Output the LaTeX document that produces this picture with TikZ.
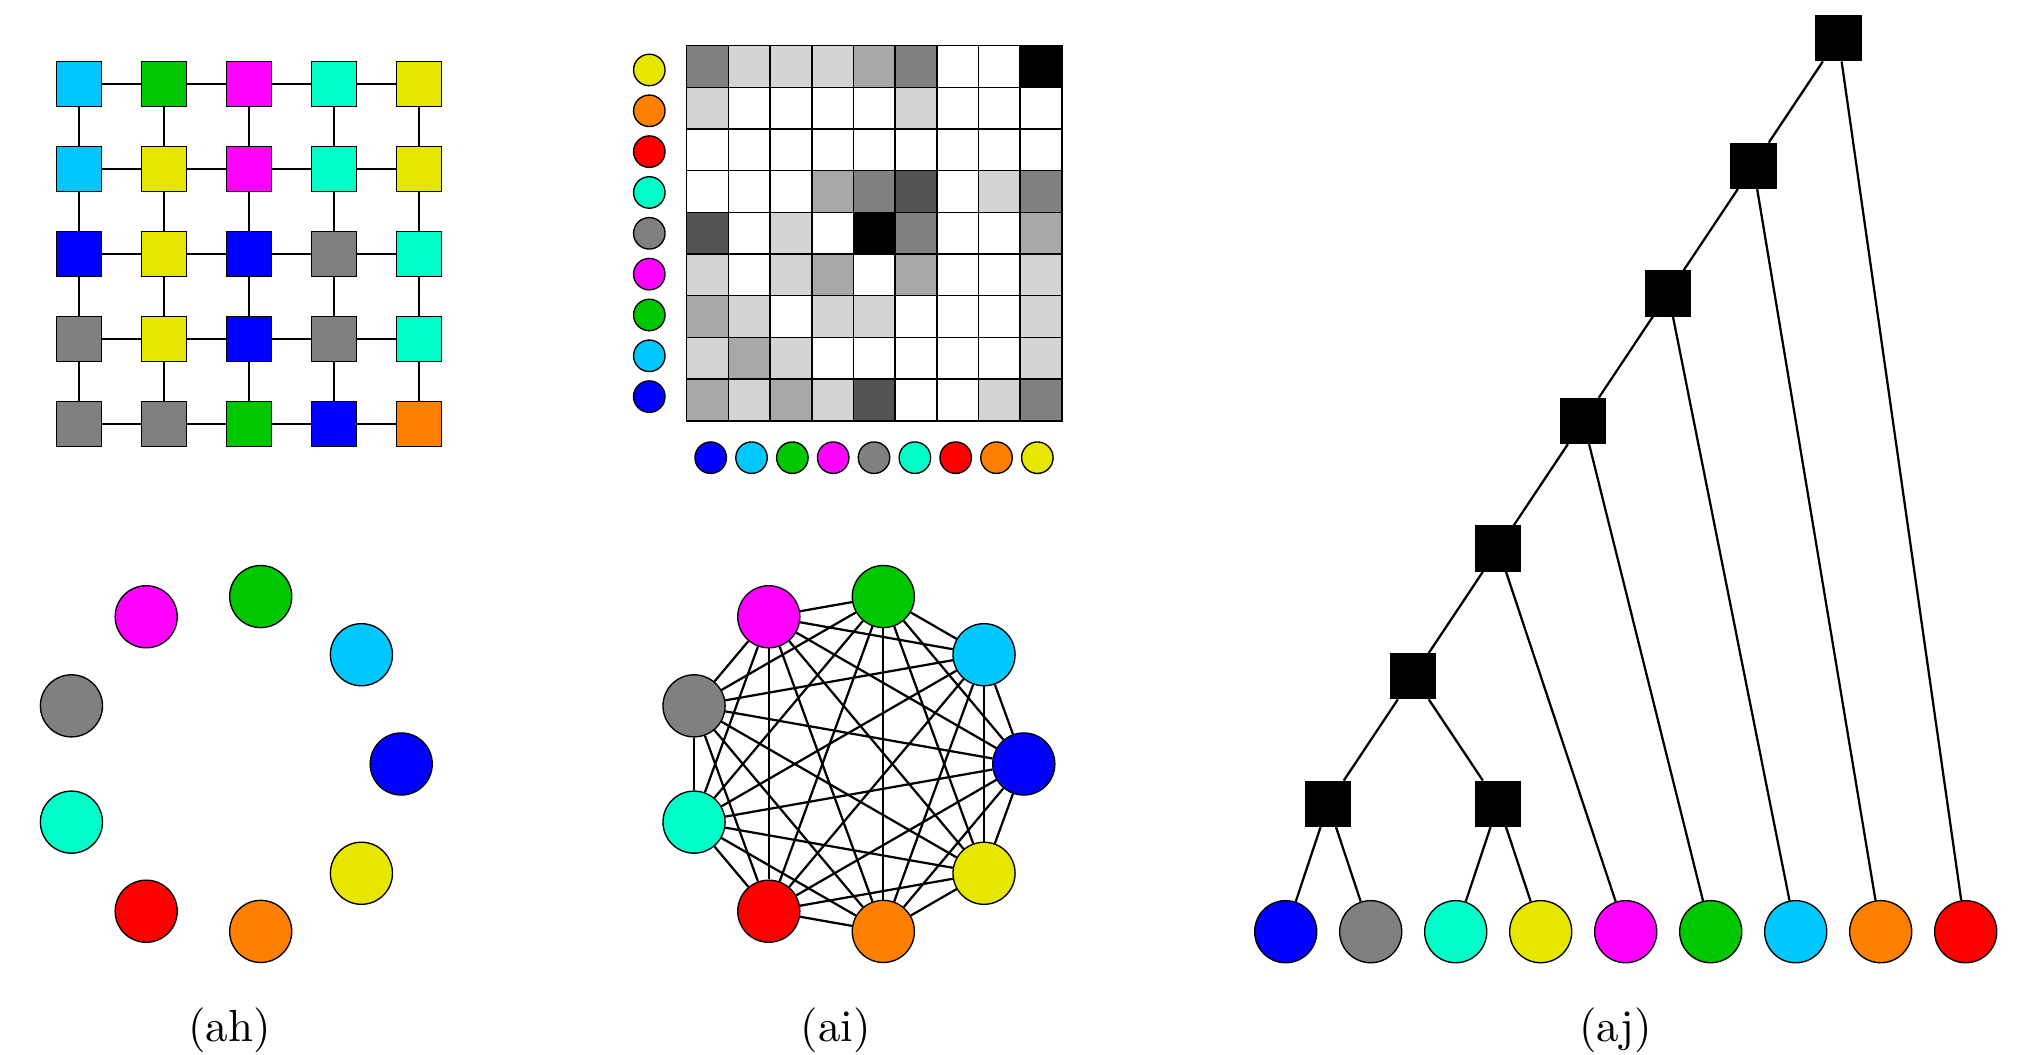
\documentclass[tikz,border=0pt]{standalone}
\definecolor{ccyan}{RGB}{0,200,255}
\definecolor{cgreen}{RGB}{0,200,0}
\definecolor{cmag}{RGB}{255,0,255}
\definecolor{caqua}{RGB}{0,255,200}
\definecolor{cyel}{RGB}{230,230,0}
\definecolor{cgray}{RGB}{128,128,128}
\definecolor{cblue}{RGB}{0,0,255}
\definecolor{cred}{RGB}{255,0,0}
\definecolor{corange}{RGB}{255,128,0}
\colorlet{shade0}{white}
\colorlet{shade1}{black!17}
\colorlet{shade2}{black!34}
\colorlet{shade3}{black!50}
\colorlet{shade4}{black!67}
\colorlet{shade5}{black}

\begin{document}
\begin{tikzpicture}
  [x=0.2222pt,y=-0.2222pt,line width=0.5pt,
   sq/.style={rectangle,draw,line width=0.3pt,minimum size=10pt,inner sep=0pt},
   dot/.style={circle,draw,line width=0.3pt,minimum size=13.8pt,inner sep=0pt},
   key/.style={circle,draw,line width=0.3pt,minimum size=7pt,inner sep=0pt}]
  \useasboundingbox (0,0) rectangle (2017,1055);
  % (ah) grid
  \foreach \row [count=\i] in {{ccyan,cgreen,cmag,caqua,cyel},{ccyan,cyel,cmag,caqua,cyel},
      {cblue,cyel,cblue,cgray,caqua},{cgray,cyel,cblue,cgray,caqua},{cgray,cgray,cgreen,cblue,corange}}
    \foreach \col [count=\j] in \row
      \node[sq,fill=\col] (g\i\j) at ({78.7+85*(\j-1)},{83.7+85*(\i-1)}) {};
  \foreach \i in {1,...,5}
    \foreach \j/\k in {1/2,2/3,3/4,4/5} {
      \draw (g\i\j) -- (g\i\k);
      \draw (g\j\i) -- (g\k\i);
    }
  % (ai) matrix
  \foreach \row [count=\i] in {{3,1,1,1,2,3,0,0,5},{1,0,0,0,0,1,0,0,0},{0,0,0,0,0,0,0,0,0},
      {0,0,0,2,3,4,0,1,3},{4,0,1,0,5,3,0,0,2},{1,0,1,2,0,2,0,0,1},
      {2,1,0,1,1,0,0,0,1},{1,2,1,0,0,0,0,0,1},{2,1,2,1,4,0,0,1,3}}
    \foreach \v [count=\j] in \row
      \filldraw[fill=shade\v,line width=0.35pt]
        ({686.7+41.67*(\j-1)},{45.7+41.67*(\i-1)}) rectangle ++(41.67,41.67);
  \foreach \col [count=\i] in {cyel,corange,cred,caqua,cgray,cmag,cgreen,ccyan,cblue}
    \node[key,fill=\col] (r\i) at (649.3,{70+40.83*(\i-1)}) {};
  \foreach \col [count=\j] in {cblue,ccyan,cgreen,cmag,cgray,caqua,cred,corange,cyel}
    \node[key,fill=\col] (c\j) at ({710.7+40.83*(\j-1)},457.7) {};
  % (ah) ring and (ai) complete graph
  \foreach \col [count=\i] in {cblue,ccyan,cgreen,cmag,cgray,caqua,cred,corange,cyel} {
    \node[dot,fill=\col] (a\i) at ([shift={({-40*(\i-1)}:170)}]231.2,764) {};
    \node[dot,fill=\col] (b\i) at ([shift={({-40*(\i-1)}:170)}]853.8,764) {};
  }
  \foreach \i in {1,...,9}
    \foreach \j in {1,...,9} {
      \ifnum\i<\j \draw (b\i) -- (b\j); \fi
    }
  % (aj) tree
  \foreach \col [count=\i] in {cblue,cgray,caqua,cyel,cmag,cgreen,ccyan,corange,cred}
    \node[dot,fill=\col] (l\i) at ({1285.7+85*(\i-1)},931.7) {};
  \node[sq,fill] (t1) at (1328.3,803.8) {};
  \node[sq,fill] (t2) at (1498.3,803.8) {};
  \node[sq,fill] (t3) at (1413.3,676.2) {};
  \node[sq,fill] (t4) at (1498.3,548.6) {};
  \node[sq,fill] (t5) at (1583.3,421.0) {};
  \node[sq,fill] (t6) at (1668.3,293.4) {};
  \node[sq,fill] (t7) at (1753.3,165.8) {};
  \node[sq,fill] (t8) at (1838.3,38.3) {};
  \foreach \from/\to in {t1/l1,t1/l2,t2/l3,t2/l4,t3/t1,t3/t2,t4/t3,t4/l5,
      t5/t4,t5/l6,t6/t5,t6/l7,t7/t6,t7/l8,t8/t7,t8/l9}
    \draw (\from) -- (\to);
  \node[anchor=base] (lah) at (229.7,1041.7) {(ah)};
  \node[anchor=base] (lai) at (835.8,1041.7) {(ai)};
  \node[anchor=base] (laj) at (1615.5,1041.7) {(aj)};
\end{tikzpicture}
\end{document}
